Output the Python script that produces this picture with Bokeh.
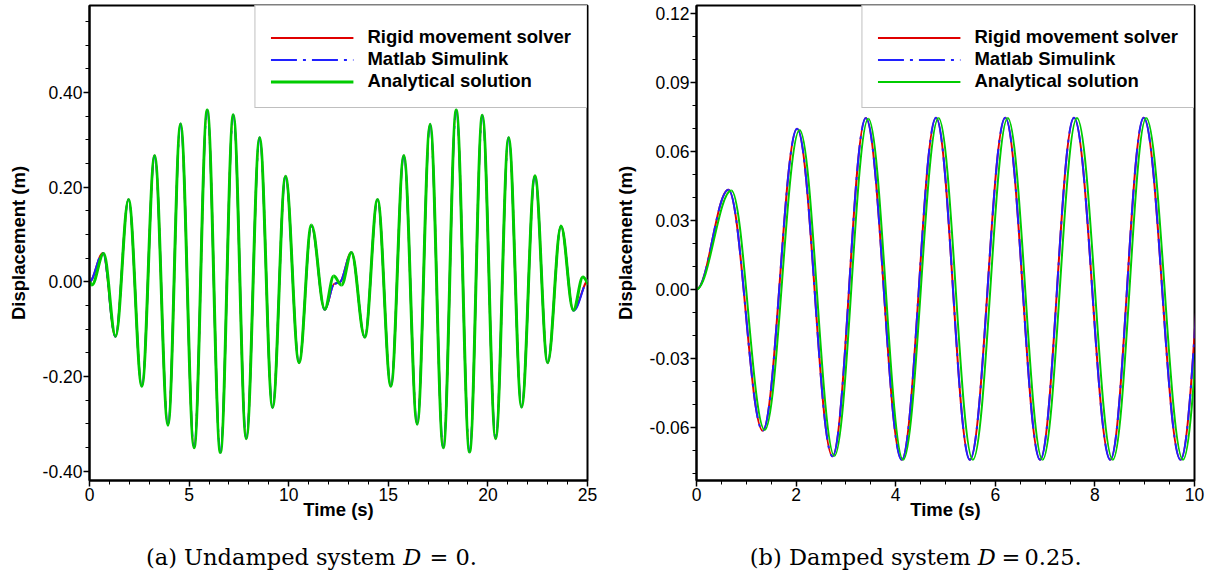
import numpy as np
from bokeh.plotting import figure
from bokeh.models import (FixedTicker, PrintfTickFormatter, Legend, LegendItem,
                          Range1d, ColumnDataSource)
from bokeh.layouts import column, row
from bokeh.embed import file_html
from bokeh.resources import INLINE
from bokeh.core.properties import value

# ---------------- data (turning points) ----------------
# (a) Undamped system, time (s) / displacement (m)
a_solver_t = [0.00, 0.68, 1.30, 1.96, 2.63, 3.27, 3.94, 4.57, 5.25, 5.91, 6.57, 7.22, 7.87,
              8.54, 9.19, 9.84, 10.52, 11.14, 11.81, 12.30, 12.55, 13.15, 13.82, 14.46, 15.13,
              15.78, 16.45, 17.10, 17.76, 18.41, 19.08, 19.72, 20.39, 21.04, 21.69, 22.36,
              23.00, 23.67, 24.29, 25.06]
a_solver_y = [0.000, 0.061, -0.116, 0.174, -0.221, 0.267, -0.303, 0.334, -0.351, 0.363, -0.361,
              0.353, -0.332, 0.305, -0.266, 0.223, -0.171, 0.118, -0.059, -0.004, -0.001, 0.062,
              -0.117, 0.174, -0.221, 0.267, -0.301, 0.333, -0.351, 0.363, -0.360, 0.352, -0.332,
              0.305, -0.265, 0.224, -0.171, 0.118, -0.060, 0.004]
a_simulink_t = [0.00, 0.67, 1.30, 1.96, 2.63, 3.27, 3.94, 4.57, 5.25, 5.91, 6.57, 7.22, 7.87,
                8.54, 9.19, 9.84, 10.52, 11.14, 11.81, 12.30, 12.55, 13.15, 13.82, 14.46, 15.13,
                15.78, 16.45, 17.10, 17.76, 18.41, 19.08, 19.72, 20.39, 21.04, 21.69, 22.36,
                23.00, 23.67, 24.30, 25.07]
a_simulink_y = [0.000, 0.061, -0.116, 0.174, -0.221, 0.267, -0.303, 0.334, -0.351, 0.363, -0.361,
                0.353, -0.332, 0.305, -0.266, 0.223, -0.171, 0.118, -0.059, -0.004, -0.001, 0.062,
                -0.117, 0.174, -0.221, 0.267, -0.301, 0.333, -0.351, 0.363, -0.360, 0.352, -0.332,
                0.305, -0.265, 0.224, -0.171, 0.118, -0.061, 0.004]
a_analytical_t = [0.00, 0.12, 0.71, 1.31, 1.96, 2.63, 3.27, 3.94, 4.57, 5.25, 5.91, 6.57, 7.22,
                  7.87, 8.54, 9.19, 9.84, 10.52, 11.14, 11.81, 12.26, 12.65, 13.15, 13.82, 14.46,
                  15.13, 15.78, 16.45, 17.10, 17.76, 18.41, 19.08, 19.72, 20.39, 21.04, 21.69,
                  22.36, 23.00, 23.67, 24.29, 24.77, 25.12]
a_analytical_y = [0.000, -0.007, 0.060, -0.115, 0.174, -0.221, 0.267, -0.303, 0.334, -0.351,
                  0.363, -0.361, 0.353, -0.332, 0.305, -0.266, 0.223, -0.171, 0.120, -0.058,
                  0.012, -0.007, 0.062, -0.117, 0.174, -0.221, 0.267, -0.301, 0.333, -0.351,
                  0.363, -0.360, 0.352, -0.332, 0.305, -0.265, 0.224, -0.171, 0.118, -0.060,
                  0.010, -0.007]

# (b) Damped system D = 0.25
b_solver_t = [0.00, 0.64, 1.33, 2.02, 2.73, 3.40, 4.12, 4.81, 5.49, 6.20, 6.90, 7.58, 8.31,
              8.98, 9.72, 10.40]
b_solver_y = [0.0000, 0.0433, -0.0615, 0.0699, -0.0727, 0.0745, -0.0742, 0.0747, -0.0742,
              0.0747, -0.0742, 0.0747, -0.0742, 0.0747, -0.0742, 0.0745]
b_simulink_t = [0.00, 0.64, 1.33, 2.02, 2.73, 3.40, 4.12, 4.81, 5.49, 6.20, 6.90, 7.58, 8.31,
                8.98, 9.72, 10.40]
b_simulink_y = [0.0000, 0.0433, -0.0615, 0.0699, -0.0727, 0.0745, -0.0742, 0.0747, -0.0742,
                0.0747, -0.0742, 0.0747, -0.0742, 0.0747, -0.0742, 0.0745]
b_analytical_t = [0.00, 0.70, 1.37, 2.07, 2.77, 3.45, 4.15, 4.86, 5.55, 6.25, 6.95, 7.64, 8.36,
                  9.03, 9.77, 10.45]
b_analytical_y = [0.0000, 0.0430, -0.0612, 0.0693, -0.0725, 0.0742, -0.0742, 0.0745, -0.0742,
                  0.0745, -0.0742, 0.0745, -0.0742, 0.0745, -0.0742, 0.0745]

series_labels = ["Rigid movement solver", "Matlab Simulink", "Analytical solution"]

a_x_ticks = [0, 5, 10, 15, 20, 25]
a_x_minor = list(range(0, 26))
a_y_ticks = [-0.40, -0.20, 0.00, 0.20, 0.40]
a_y_minor = [round(-0.40 + 0.05 * i, 2) for i in range(20)]
b_x_ticks = [0, 2, 4, 6, 8, 10]
b_x_minor = [0.5 * i for i in range(21)]
b_y_ticks = [-0.06, -0.03, 0.00, 0.03, 0.06, 0.09, 0.12]
b_y_minor = [round(-0.08 + 0.01 * i, 2) for i in range(21)]

cap_a_text = ["(a) Undamped system"]
cap_a_math = ["D"]
cap_a_rest = ["=", "0."]
cap_b_text = ["(b) Damped system"]
cap_b_math = ["D"]
cap_b_rest = ["=", "0.25."]

# ---------------- style ----------------
RED, BLUE, GREEN = "#e00000", "#2020ff", "#00cc00"
SANS = "Liberation Sans"
K = 0.3634  # cubic Bezier handle fraction for a half-wave between turning points


def wave_source(t, y):
    t = np.asarray(t, float)
    y = np.asarray(y, float)
    dt = np.diff(t)
    return ColumnDataSource(dict(x0=t[:-1], y0=y[:-1], x1=t[1:], y1=y[1:],
                                 cx0=t[:-1] + K * dt, cy0=y[:-1],
                                 cx1=t[1:] - K * dt, cy1=y[1:]))


def make_panel(width, height, xr, yr, xt, xm, yt, ym, series, green_w, mbl, mbr):
    p = figure(width=width, height=height, x_range=Range1d(*xr), y_range=Range1d(*yr),
               output_backend="svg", toolbar_location=None,
               min_border_left=mbl, min_border_right=mbr, min_border_top=5, min_border_bottom=50)
    p.xgrid.visible = False
    p.ygrid.visible = False
    p.outline_line_color = "black"
    p.outline_line_width = 2
    p.background_fill_color = "white"
    p.border_fill_color = "white"

    p.xaxis.ticker = FixedTicker(ticks=xt, minor_ticks=xm)
    p.yaxis.ticker = FixedTicker(ticks=yt, minor_ticks=ym)
    p.xaxis.formatter = PrintfTickFormatter(format="%d")
    p.yaxis.formatter = PrintfTickFormatter(format="%.2f")
    p.xaxis.axis_label = "Time (s)"
    p.yaxis.axis_label = "Displacement (m)"
    for ax in (p.xaxis[0], p.yaxis[0]):
        ax.axis_line_width = 2
        ax.axis_line_color = "black"
        ax.major_tick_out = 6
        ax.major_tick_in = 0
        ax.minor_tick_out = 4
        ax.minor_tick_in = 0
        ax.major_tick_line_width = 1.5
        ax.minor_tick_line_width = 1
        ax.major_label_text_font = SANS
        ax.major_label_text_font_size = "17.5px"
        ax.major_label_text_color = "black"
        ax.major_label_standoff = 1
        ax.axis_label_text_font = SANS
        ax.axis_label_text_font_style = "bold"
        ax.axis_label_text_font_size = "18.5px"
        ax.axis_label_text_color = "black"
    p.xaxis.axis_label_standoff = -5
    p.yaxis.axis_label_standoff = 11

    styles = [dict(line_color=RED, line_width=2),
              dict(line_color=BLUE, line_width=2, line_dash="26 6 3 6"),
              dict(line_color=GREEN, line_width=green_w)]
    items = []
    for (t, y), st, lab in zip(series, styles, series_labels):
        src = wave_source(t, y)
        p.bezier(x0="x0", y0="y0", x1="x1", y1="y1", cx0="cx0", cy0="cy0",
                 cx1="cx1", cy1="cy1", source=src, **st)
        # one-point line: draws nothing in the frame, only serves the legend swatch
        swatch = p.line(x=[t[0]], y=[y[0]], **st)
        items.append(LegendItem(label=lab, renderers=[swatch]))

    leg = Legend(items=items, location="top_right", margin=0, padding=15, spacing=0,
                 glyph_width=83, glyph_height=21, label_height=21, label_standoff=14,
                 label_text_font=SANS, label_text_font_style="bold",
                 label_text_font_size="18.5px", label_text_color="black",
                 border_line_color="#808080", border_line_width=1,
                 background_fill_color="white", background_fill_alpha=1.0,
                 title=" ", title_text_font_size="4px", title_standoff=0)
    p.add_layout(leg)
    return p


pa = make_panel(600, 530, (0, 25), (-0.42, 0.584), a_x_ticks, a_x_minor, a_y_ticks, a_y_minor,
                [(a_solver_t, a_solver_y), (a_simulink_t, a_simulink_y),
                 (a_analytical_t, a_analytical_y)], 3, 89, 13)
pb = make_panel(610, 530, (0, 10), (-0.0832, 0.1235), b_x_ticks, b_x_minor, b_y_ticks, b_y_minor,
                [(b_solver_t, b_solver_y), (b_simulink_t, b_simulink_y),
                 (b_analytical_t, b_analytical_y)], 2, 96, 16)

# ---------------- captions ----------------
cap = figure(width=1210, height=40, x_range=Range1d(0, 1210), y_range=Range1d(40, 0),
             output_backend="svg", toolbar_location=None,
             x_axis_location=None, y_axis_location=None, min_border=0)
cap.outline_line_color = None
cap.grid.visible = False
SERIF = value("DejaVu Serif")
CAP_SIZE = "22.5px"
common = dict(text_font=SERIF, text_font_size=CAP_SIZE, text_baseline="alphabetic",
              text_color="black")
cap.text(x=[395], y=[26], text=cap_a_text, text_align="right", **common)
cap.text(x=[402.7], y=[26], text=cap_a_math, text_font_style="italic", **common)
cap.text(x=[429, 455], y=[26, 26], text=cap_a_rest, **common)
cap.text(x=[970], y=[26], text=cap_b_text, text_align="right", **common)
cap.text(x=[977.3], y=[26], text=cap_b_math, text_font_style="italic", **common)
cap.text(x=[1001, 1024], y=[26, 26], text=cap_b_rest, **common)

layout = column(row(pa, pb), cap)
open("out.html", "w").write(file_html(layout, INLINE))
